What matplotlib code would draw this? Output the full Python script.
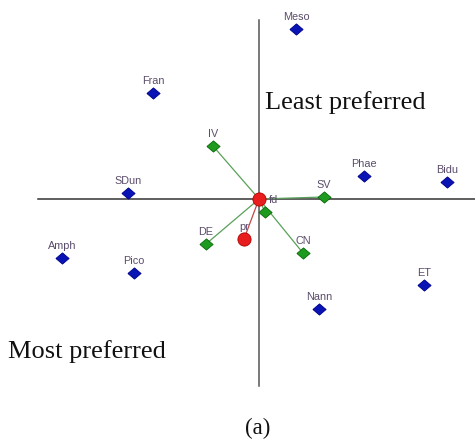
import matplotlib
matplotlib.use("Agg")
import matplotlib.pyplot as plt

# Blue diamonds (objects)
blue_names = ["Meso", "Fran", "SDun", "Phae", "Bidu", "Amph", "Pico", "ET", "Nann"]
blue_x = [0.37, -1.06, -1.31, 1.05, 1.88, -1.97, -1.25, 1.65, 0.60]
blue_y = [1.70, 1.06, 0.06, 0.23, 0.17, -0.59, -0.74, -0.86, -1.10]

# Green diamonds (attributes)
green_names = ["IV", "SV", "DE", "CN", "fd"]
green_x = [-0.46, 0.65, -0.53, 0.44, 0.06]
green_y = [0.53, 0.02, -0.45, -0.54, -0.13]

# Red points
red_names = ["", "pr"]
red_x = [0.0, -0.15]
red_y = [0.0, -0.40]

W, H = 475, 441
fig = plt.figure(figsize=(W / 100, H / 100), dpi=100)
ax = fig.add_axes([0, 0, 1, 1])
ax.set_xlim(-2.59, 2.16)
ax.set_ylim(-2.42, 1.99)
ax.axis("off")

# axes lines
ax.plot([-2.21, 2.16], [0, 0], color="#333333", lw=1.1, zorder=1)
ax.plot([0, 0], [1.79, -1.87], color="#555555", lw=1.1, zorder=1)

# vectors from origin
for gx, gy in zip(green_x, green_y):
    ax.plot([0, gx], [0, gy], color="#5aa05a", lw=0.9, zorder=2)
ax.plot([0, red_x[1]], [0, red_y[1]], color="#c04848", lw=0.9, zorder=2)

lab_color = "#5a4c6a"
for names, xs, ys in [(blue_names, blue_x, blue_y), (green_names, green_x, green_y),
                      (red_names, red_x, red_y)]:
    for n, x, y in zip(names, xs, ys):
        if not n:
            continue
        dx = 8 if n == "fd" else 0
        ax.annotate(n, (x, y), xytext=(dx, 12), textcoords="offset pixels",
                    ha="center", va="center", fontsize=7.8, color=lab_color,
                    family="Liberation Sans", zorder=2.5)

diamond = [(-1, 0), (0, 0.85), (1, 0), (0, -0.85), (-1, 0)]
ax.plot(blue_x, blue_y, linestyle="none", marker=diamond, markersize=9.5,
        markerfacecolor="#0a14b4", markeredgecolor="#00008a", markeredgewidth=0.6, zorder=3)
ax.plot(green_x, green_y, linestyle="none", marker=diamond, markersize=9.5,
        markerfacecolor="#1e9a1e", markeredgecolor="#0a6a0a", markeredgewidth=0.6, zorder=3)
ax.plot(red_x, red_y, linestyle="none", marker="o", markersize=9.5,
        markerfacecolor="#e81e1e", markeredgecolor="#b00000", markeredgewidth=0.6, zorder=4)

serif = "Liberation Serif"
ax.text(0.06, 0.96, "Least preferred", ha="left", va="center", fontsize=19,
        family=serif, color="#111111")
ax.text(-2.51, -1.53, "Most preferred", ha="left", va="center", fontsize=19,
        family=serif, color="#111111")
ax.text(-0.01, -2.29, "(a)", ha="center", va="center", fontsize=16.5,
        family=serif, color="#111111")

fig.savefig("out.png", dpi=100)
